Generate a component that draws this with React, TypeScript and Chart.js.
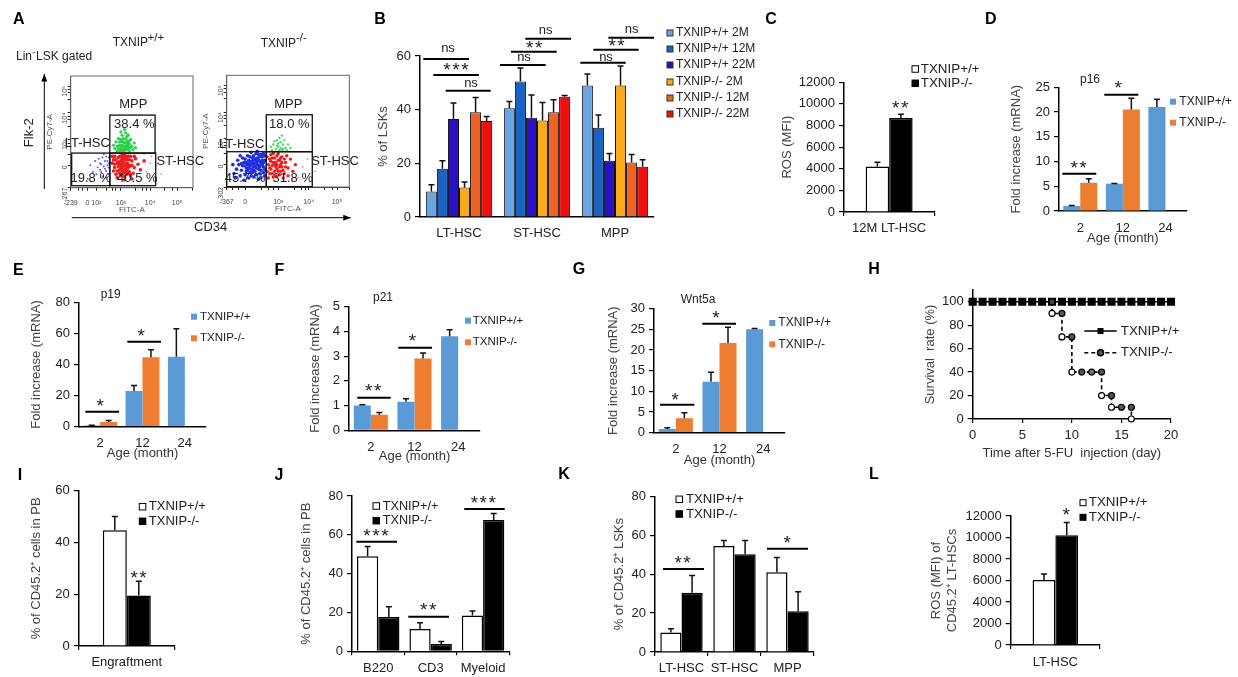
import React, { useEffect, useRef } from "react";
import { Chart, registerables } from "chart.js";

Chart.register(...registerables);

/* ---------- data ---------- */
const groups3 = ["LT-HSC", "ST-HSC", "MPP"];
const seriesNamesB = ["TXNIP+/+ 2M", "TXNIP+/+ 12M", "TXNIP+/+ 22M", "TXNIP-/- 2M", "TXNIP-/- 12M", "TXNIP-/- 22M"];
const colorsB = ["#68a5e2", "#1c62c0", "#2a12c4", "#fbaa1c", "#ee6226", "#ee1010"];
const valuesB = [
  [9.5, 40.5, 49],
  [18, 50.5, 33.3],
  [36.5, 37, 21],
  [11, 36, 49],
  [39, 39, 20.3],
  [35.8, 44.8, 18.7],
];
const errB = [
  [12, 43, 53.3],
  [21, 55.5, 38],
  [42.5, 45.5, 23.7],
  [13, 42.7, 56.3],
  [44.5, 43.7, 23.3],
  [37.5, 45.3, 21.3],
];
const ageLabels = ["2", "12", "24"];
const rosCLabel = ["12M LT-HSC"];
const rosCWT = [4200];
const rosCKO = [8700];
const rosCWTerr = [4600];
const rosCKOerr = [9050];
const p16WT = [1, 5.5, 21];
const p16KO = [5.7, 20.5, null];
const p16WTerr = [1.1, 5.55, 22.6];
const p16KOerr = [6.5, 22.8, null];
const p19WT = [0.7, 23, 45];
const p19KO = [3, 44.7, null];
const p19WTerr = [1, 26.5, 63];
const p19KOerr = [4, 49.5, null];
const p21WT = [1, 1.15, 3.8];
const p21KO = [0.63, 2.9, null];
const p21WTerr = [1.03, 1.28, 4.07];
const p21KOerr = [0.72, 3.13, null];
const wntWT = [0.9, 12.3, 25];
const wntKO = [3.5, 21.7, null];
const wntWTerr = [1.2, 14.6, 25.2];
const wntKOerr = [4.8, 25.5, null];
const survivalWTDays = [0, 1, 2, 3, 4, 5, 6, 7, 8, 9, 10, 11, 12, 13, 14, 15, 16, 17, 18, 19, 20];
const survivalWT = [100, 100, 100, 100, 100, 100, 100, 100, 100, 100, 100, 100, 100, 100, 100, 100, 100, 100, 100, 100, 100];
const survivalKODays = [8, 8, 9, 9, 10, 10, 11, 12, 13, 13, 14, 14, 15, 16, 16];
const survivalKO = [100, 90, 90, 70, 70, 40, 40, 40, 40, 20, 20, 10, 10, 10, 0];
const survivalKOFill = ["#444", "#fff", "#555", "#fff", "#555", "#fff", "#555", "#777", "#555", "#fff", "#555", "#fff", "#555", "#555", "#fff"];
const engraftLabel = ["Engraftment"];
const engraftWT = [44.7];
const engraftKO = [19.5];
const engraftWTerr = [50];
const engraftKOerr = [25];
const pbLabels = ["B220", "CD3", "Myeloid"];
const pbWT = [49, 11.5, 18.5];
const pbKO = [17.7, 3.7, 67.7];
const pbWTerr = [54, 14.7, 20.7];
const pbKOerr = [23, 5, 71];
const lskWT = [10, 54.5, 41];
const lskKO = [30.5, 50.2, 21];
const lskWTerr = [12, 57.3, 48.5];
const lskKOerr = [39.3, 57.3, 31];
const rosLLabel = ["LT-HSC"];
const rosLWT = [6050];
const rosLKO = [10200];
const rosLWTerr = [6600];
const rosLKOerr = [11400];

/* flow-cytometry dots, in percent of the plot box */
const flowAGreen = [[44,40],[42,38],[46,42],[45,36],[40,41],[48,39],[43,44],[47,35],[41,35],[44,33],[50,37],[38,37],[46,46],[42,47],[49,43],[39,44],[52,40],[36,35],[45,49],[48,33],[43,34],[40,33],[47,40],[44,37],[41,43],[51,34],[37,41],[46,38],[43,41],[45,44],[42,33],[49,36],[40,38],[38,33],[53,36],[44,52],[47,47],[41,50],[35,38],[42,41],[44,35],[46,34],[43,37],[39,35],[48,42],[45,40],[41,37],[47,37]];
const flowARed = [[44,20],[42,18],[46,22],[40,16],[48,19],[38,22],[45,26],[43,13],[36,18],[50,24],[41,24],[47,15],[39,27],[44,10],[35,25],[52,18],[46,28],[42,29],[49,28],[37,12],[41,20],[43,23],[45,17],[47,21],[39,19],[38,15],[36,28],[51,13],[55,21],[44,25],[42,15],[40,28],[46,12],[48,25],[34,22],[45,14],[43,27],[41,11],[39,23],[47,18],[37,25],[50,20],[44,16],[42,22],[46,19],[40,21],[43,19],[45,21],[41,17],[48,14],[35,15],[53,26],[38,9],[47,28],[49,11],[36,21],[44,29],[42,26],[57,16],[60,24],[40,13],[46,25],[34,28],[52,28],[44,7],[50,8]];
const flowAFaint = [[62,14],[65,22],[58,8],[70,20],[66,28],[74,12],[60,30]];
const flowABlue = [[28,24],[30,20],[26,27],[24,22],[29,15],[31,27],[22,18],[27,19],[25,14],[31,12],[20,24],[18,14],[29,28],[30,24],[28,17],[26,10],[23,26],[16,20],[31,18],[27,30],[24,16],[21,12],[14,8],[29,9],[31,22],[25,21]];
const flowBBlue = [[20,20],[22,18],[24,22],[18,24],[26,16],[16,17],[21,26],[25,26],[28,21],[14,22],[19,13],[23,14],[27,12],[30,18],[12,15],[17,28],[29,27],[24,30],[20,31],[31,24],[10,20],[15,11],[22,9],[26,7],[13,26],[11,10],[8,16],[6,12],[19,19],[21,21],[23,19],[25,20],[27,23],[18,21],[20,16],[22,24],[24,17],[26,24],[28,15],[30,13],[16,22],[17,15],[29,20],[31,16],[31,28],[28,29],[25,32],[22,28],[19,27],[15,25],[13,19],[9,24],[11,28],[7,8],[14,6],[18,8],[24,11],[21,13],[26,19],[23,25],[27,27],[29,24],[30,22],[25,23],[22,21],[20,23],[18,17],[16,14],[12,21],[5,20],[31,10],[28,8],[30,30],[26,29],[24,25],[22,15],[20,10],[17,20],[15,19],[27,18]];
const flowBRed = [[38,22],[40,18],[42,24],[36,16],[44,20],[35,25],[41,28],[37,12],[46,15],[39,26],[43,11],[34,20],[48,22],[45,27],[36,29],[50,17],[38,9],[42,14],[40,22],[44,26],[47,12],[35,12],[37,19],[39,14],[41,20],[43,18],[45,22],[33,27],[52,25],[54,14],[49,28],[46,8],[34,8],[38,30],[42,30],[36,23],[40,10],[44,14],[48,18],[50,10],[56,20],[37,26],[41,16],[43,24],[39,20],[35,17],[33,14],[47,25],[45,18]];
const flowBFaint = [[58,8],[62,18],[66,25],[72,14]];
const flowBGreen = [[44,40],[42,36],[46,38],[40,34],[48,35],[38,38],[43,44],[45,33],[41,42],[47,42],[37,33],[50,38],[44,35],[42,39],[39,41],[46,34],[43,33],[41,37],[45,46],[49,33],[36,36],[52,35]];
const flowAXTicks = [0, 6, 10, 13.6, 21, 29, 34, 37, 41, 53, 59, 62, 65, 77, 83, 87, 100];
const flowAXLabels = { 0: "-239", 13.6: "0", 21: "10\u00b2", 41: "10\u00b3", 65: "10\u2074", 87: "10\u2075" };
const flowBXTicks = [0, 5, 10, 15, 28, 34, 38, 42, 55, 61, 64, 67, 80, 86, 90, 100];
const flowBXLabels = { 0: "-367", 15: "0", 42: "10\u00b3", 67: "10\u2074", 90: "10\u2075" };
const flowAYTicks = [0, 20, 30, 37, 40, 43, 55, 61, 64, 67, 79, 85, 88, 91];
const flowAYLabels = { 0: "-267", 20: "0", 43: "10\u00b3", 67: "10\u2074", 91: "10\u2075" };
const flowBYLabels = { 0: "-302", 20: "0", 43: "10\u00b3", 67: "10\u2074", 91: "10\u2075" };

/* ---------- layout and style ---------- */
const W = 1238;
const H = 677;
const FONT = '"Liberation Sans", Arial, sans-serif';
const WT_BLUE = "#5b9bd5";
const KO_ORANGE = "#ed7d31";

const decorPlugin = {
  id: "decor",
  afterDraw(chart: any, _args: any, opts: any) {
    const ctx = chart.ctx;
    const yScale = chart.scales.y;
    const xScale = chart.scales.x;
    ctx.save();
    (chart.data.datasets as any[]).forEach((ds, i) => {
      if (!ds.errTop) return;
      const meta = chart.getDatasetMeta(i);
      meta.data.forEach((el: any, j: number) => {
        const v = ds.errTop[j];
        if (v == null) return;
        const top = yScale.getPixelForValue(v);
        const from = yScale.getPixelForValue(ds.data[j]);
        ctx.strokeStyle = "#111";
        ctx.lineWidth = 1.5;
        ctx.beginPath();
        ctx.moveTo(el.x, from);
        ctx.lineTo(el.x, top);
        ctx.moveTo(el.x - 3, top);
        ctx.lineTo(el.x + 3, top);
        ctx.stroke();
      });
    });
    if (opts.plotBox) {
      const a = chart.chartArea;
      ctx.strokeStyle = "#666";
      ctx.lineWidth = 1;
      ctx.strokeRect(a.left, a.top, a.right - a.left, a.bottom - a.top);
    }
    (opts.gates || []).forEach((g: number[]) => {
      const x0 = xScale.getPixelForValue(g[0]);
      const x1 = xScale.getPixelForValue(g[1]);
      const y0 = yScale.getPixelForValue(g[2]);
      const y1 = yScale.getPixelForValue(g[3]);
      ctx.strokeStyle = "#111";
      ctx.lineWidth = 1.3;
      ctx.strokeRect(x0, y1, x1 - x0, y0 - y1);
    });
    (opts.hbars || []).forEach((b: number[]) => {
      ctx.strokeStyle = "#000";
      ctx.lineWidth = 2;
      ctx.beginPath();
      ctx.moveTo(b[0], b[2]);
      ctx.lineTo(b[1], b[2]);
      ctx.stroke();
    });
    (opts.arrows || []).forEach((a: number[]) => {
      const ang = Math.atan2(a[3] - a[1], a[2] - a[0]);
      ctx.strokeStyle = "#000";
      ctx.fillStyle = "#000";
      ctx.lineWidth = 1;
      ctx.beginPath();
      ctx.moveTo(a[0], a[1]);
      ctx.lineTo(a[2], a[3]);
      ctx.stroke();
      ctx.beginPath();
      ctx.moveTo(a[2], a[3]);
      ctx.lineTo(a[2] - 8 * Math.cos(ang - 0.38), a[3] - 8 * Math.sin(ang - 0.38));
      ctx.lineTo(a[2] - 8 * Math.cos(ang + 0.38), a[3] - 8 * Math.sin(ang + 0.38));
      ctx.fill();
    });
    (opts.swatches || []).forEach((s: any) => {
      ctx.fillStyle = s.fill;
      ctx.fillRect(s.x, s.y - s.size / 2, s.size, s.size);
      if (s.stroke) {
        ctx.strokeStyle = s.stroke;
        ctx.lineWidth = 1;
        ctx.strokeRect(s.x, s.y - s.size / 2, s.size, s.size);
      }
    });
    (opts.legendLines || []).forEach((l: any) => {
      ctx.strokeStyle = "#000";
      ctx.lineWidth = 1.5;
      ctx.setLineDash(l.dash || []);
      ctx.beginPath();
      ctx.moveTo(l.x0, l.y);
      ctx.lineTo(l.x1, l.y);
      ctx.stroke();
      ctx.setLineDash([]);
      const c = (l.x0 + l.x1) / 2;
      ctx.fillStyle = l.fill;
      if (l.square) {
        ctx.fillRect(c - 3, l.y - 3, 6, 6);
      } else {
        ctx.beginPath();
        ctx.arc(c, l.y, 3, 0, Math.PI * 2);
        ctx.fill();
        ctx.stroke();
      }
    });
    (opts.texts || []).forEach((t: any) => {
      const isStar = /^\*+$/.test(t.t);
      const size = t.size || (isStar ? 19 : 13);
      ctx.save();
      ctx.font = `${t.bold ? "bold " : ""}${size}px ${FONT}`;
      ctx.fillStyle = t.color || "#222";
      ctx.textAlign = t.align || "center";
      ctx.textBaseline = "middle";
      if (isStar && "letterSpacing" in ctx) (ctx as any).letterSpacing = "1.5px";
      ctx.translate(t.x, t.y + (isStar ? size * 0.22 : 0));
      if (t.rot) ctx.rotate(t.rot);
      ctx.fillText(t.t, 0, 0);
      ctx.restore();
    });
    ctx.restore();
  },
};

function legendTexts(x: number, ys: number[], labels: string[], size: number) {
  return labels.map((t, i) => ({ t, x, y: ys[i], size, align: "left" }));
}

function swatches(x: number, ys: number[], size: number, fills: string[], stroke?: string) {
  return ys.map((y, i) => ({ x, y, size, fill: fills[i], stroke }));
}

function axes(p: any) {
  const tickH = p.xTicks ? 4 : 0;
  return {
    x: {
      type: p.xType || "category",
      ...(p.xType === "linear" ? { min: p.xMin, max: p.xMax } : {}),
      offset: p.xType !== "linear",
      afterFit(s: any) {
        s.height = p.boxH;
      },
      border: { color: "#000", width: 1.5 },
      grid: {
        display: true,
        drawOnChartArea: false,
        drawTicks: !!p.xTicks,
        tickLength: tickH,
        color: "#000",
        lineWidth: 1.2,
        offset: p.xType !== "linear",
      },
      ticks: {
        autoSkip: false,
        maxRotation: 0,
        minRotation: 0,
        color: "#222",
        stepSize: p.xStep,
        padding: p.tickY - p.b - tickH - 7.5,
        font: { family: FONT, size: p.xFont || 13 },
      },
      title: p.xTitle
        ? { display: true, text: p.xTitle, color: "#333", padding: 0, font: { family: FONT, size: 13, lineHeight: 1.2 } }
        : { display: false },
    },
    y: {
      min: p.yMin || 0,
      max: p.yMax,
      afterFit(s: any) {
        s.width = p.yBox;
      },
      border: { color: "#000", width: 1.5 },
      grid: { display: true, drawOnChartArea: false, drawTicks: true, tickLength: 5, color: "#000", lineWidth: 1.2 },
      ticks: {
        stepSize: p.yStep,
        includeBounds: p.includeBounds !== false,
        color: "#222",
        padding: 4,
        font: { family: FONT, size: 13 },
        callback: (v: any) => String(v),
      },
      title: {
        display: true,
        text: p.yTitle,
        color: "#444",
        padding: 0,
        font: { family: FONT, size: 13, lineHeight: 1.2 },
      },
    },
  };
}

function barConfig(p: any) {
  const lh = 15.6;
  const yBox = p.l - p.titleX + (lh / 2) * (Array.isArray(p.yTitle) ? 2 : 1);
  const boxH = p.xTitleY ? p.xTitleY - p.b + lh / 2 : 30;
  const full = { ...p, yBox, boxH };
  const { x, y } = axes(full);
  return {
    type: p.type || "bar",
    data: { labels: p.labels, datasets: p.datasets },
    options: {
      responsive: false,
      animation: false,
      layout: { padding: { left: p.l - yBox, top: p.t, right: W - p.r, bottom: H - p.b - boxH } },
      scales: { x, y },
      plugins: { legend: { display: false }, tooltip: { enabled: false }, decor: p.decor },
    },
    plugins: [decorPlugin],
  };
}

function twoBars(wt: any[], ko: any[], wtErr: any[], koErr: any[], pct: number, outline: boolean) {
  const common = { categoryPercentage: pct, barPercentage: 1 };
  return outline
    ? [
        { label: "TXNIP+/+", data: wt, errTop: wtErr, backgroundColor: "#fff", borderColor: "#000", borderWidth: 1.5, ...common },
        { label: "TXNIP-/-", data: ko, errTop: koErr, backgroundColor: "#000", borderColor: "#000", borderWidth: 1.5, ...common },
      ]
    : [
        { label: "TXNIP+/+", data: wt, errTop: wtErr, backgroundColor: WT_BLUE, ...common },
        { label: "TXNIP-/-", data: ko, errTop: koErr, backgroundColor: KO_ORANGE, ...common },
      ];
}

const twoNames = ["TXNIP+/+", "TXNIP-/-"];

function flowConfig(p: any) {
  const tickCb = (map: any) => (v: any) => (map[v] !== undefined ? map[v] : "");
  return {
    type: "scatter",
    data: {
      datasets: p.clouds.map((c: any) => ({
        data: c.pts.map((q: number[]) => ({ x: q[0], y: q[1] })),
        backgroundColor: c.color,
        pointRadius: c.r,
        borderWidth: 0,
      })),
    },
    options: {
      responsive: false,
      animation: false,
      layout: { padding: { left: p.l - 30, top: p.t, right: W - p.r, bottom: H - p.b - 26 } },
      scales: {
        x: {
          type: "linear",
          min: 0,
          max: 100,
          afterFit(s: any) {
            s.height = 26;
          },
          afterBuildTicks(s: any) {
            s.ticks = p.xTicks.map((value: number) => ({ value }));
          },
          border: { color: "#333", width: 1 },
          grid: { drawOnChartArea: false, drawTicks: true, tickLength: 3, color: "#222" },
          ticks: { autoSkip: false, maxRotation: 0, color: "#444", padding: 8, font: { family: FONT, size: 7 }, callback: tickCb(p.xLabels) },
          title: { display: true, text: "FITC-A", color: "#555", padding: 0, font: { family: FONT, size: 8, lineHeight: 1 } },
        },
        y: {
          min: 0,
          max: 100,
          afterFit(s: any) {
            s.width = 30;
          },
          afterBuildTicks(s: any) {
            s.ticks = p.yTicks.map((value: number) => ({ value }));
          },
          border: { color: "#333", width: 1 },
          grid: { drawOnChartArea: false, drawTicks: true, tickLength: 3, color: "#222" },
          ticks: { autoSkip: false, minRotation: 90, maxRotation: 90, color: "#444", padding: 3, font: { family: FONT, size: 7 }, callback: tickCb(p.yLabels) },
          title: { display: true, text: "PE-Cy7-A", color: "#555", padding: 5, font: { family: FONT, size: 8, lineHeight: 1 } },
        },
      },
      plugins: { legend: { display: false }, tooltip: { enabled: false }, decor: p.decor },
    },
    plugins: [decorPlugin],
  };
}

const up = -Math.PI / 2;

function buildConfigs(): any[] {
  const list: any[] = [];

  /* A */
  list.push(
    flowConfig({
      l: 70.7, r: 193, t: 76, b: 187.7,
      clouds: [
        { pts: flowABlue, color: "#5560dc", r: 1 },
        { pts: flowAGreen, color: "#2ed04a", r: 1.6 },
        { pts: flowARed, color: "#ee1c1c", r: 1.8 },
        { pts: flowAFaint, color: "#f0a0a0", r: 1 },
      ],
      xTicks: flowAXTicks, xLabels: flowAXLabels, yTicks: flowAYTicks, yLabels: flowAYLabels,
      decor: {
        plotBox: true,
        gates: [[0.8, 32, 1.8, 31], [32, 69.5, 1.8, 31], [32, 69, 31, 65]],
        arrows: [[44.3, 189, 44.3, 74], [71.7, 217.7, 350.7, 217.7]],
        texts: [
          { t: "A", x: 18.7, y: 20, size: 16, bold: true, color: "#000" },
          { t: "TXNIP", x: 112.7, y: 43, size: 12, align: "left" },
          { t: "+/+", x: 147.5, y: 37.5, size: 11.5, align: "left" },
          { t: "Lin\u207bLSK gated", x: 16, y: 56.7, size: 12, align: "left" },
          { t: "Flk-2", x: 29.3, y: 132.7, rot: up },
          { t: "CD34", x: 210.7, y: 227.7 },
          { t: "MPP", x: 133.3, y: 104.3 },
          { t: "38.4 %", x: 134.3, y: 124.3 },
          { t: "LT-HSC", x: 87.3, y: 143.3 },
          { t: "ST-HSC", x: 180.3, y: 161 },
          { t: "19.8 %", x: 90.7, y: 178.3 },
          { t: "40.5 %", x: 137.3, y: 178.3 },
        ],
      },
    })
  );
  list.push(
    flowConfig({
      l: 226.7, r: 349.3, t: 75.3, b: 187,
      clouds: [
        { pts: flowBGreen, color: "#4ed868", r: 1.2 },
        { pts: flowBBlue, color: "#1f2ee0", r: 1.8 },
        { pts: flowBRed, color: "#ee1c1c", r: 1.7 },
        { pts: flowBFaint, color: "#f0a0a0", r: 1 },
      ],
      xTicks: flowBXTicks, xLabels: flowBXLabels, yTicks: flowAYTicks, yLabels: flowBYLabels,
      decor: {
        plotBox: true,
        gates: [[0, 32.3, 0.3, 31.6], [32.3, 69.8, 0.3, 31.6], [32.3, 69.8, 31.6, 64.7]],
        texts: [
          { t: "TXNIP", x: 260.7, y: 43.3, size: 12, align: "left" },
          { t: "-/-", x: 296, y: 38, size: 11.5, align: "left" },
          { t: "MPP", x: 288.3, y: 104.3 },
          { t: "18.0 %", x: 289.3, y: 124.3 },
          { t: "LT-HSC", x: 241.7, y: 144 },
          { t: "ST-HSC", x: 335, y: 161 },
          { t: "45.7 %", x: 245, y: 178.3 },
          { t: "31.8 %", x: 292.7, y: 178.3 },
        ],
      },
    })
  );

  /* B */
  list.push(
    barConfig({
      l: 420, r: 654, t: 56, b: 217, titleX: 383, tickY: 233,
      labels: groups3,
      datasets: seriesNamesB.map((label, i) => ({
        label,
        data: valuesB[i],
        errTop: errB[i],
        backgroundColor: colorsB[i],
        borderColor: "#111",
        borderWidth: 1,
        categoryPercentage: 0.85,
        barPercentage: 1,
      })),
      yMax: 60, yStep: 20, yTitle: "% of LSKs",
      decor: {
        hbars: [
          [423.3, 469, 59], [433.3, 479, 75], [445.7, 490.7, 90.7],
          [500, 545.7, 65], [511, 556.7, 51.7], [525.3, 571, 38.7],
          [580.3, 625.7, 62.7], [593.3, 638.7, 49.7], [608.3, 654, 37.7],
        ],
        swatches: swatches(667, [33, 49, 65, 82, 98, 114], 6, colorsB, "#333"),
        texts: [
          { t: "B", x: 380, y: 20, size: 16, bold: true, color: "#000" },
          { t: "ns", x: 448, y: 48 }, { t: "***", x: 456.7, y: 66.5 }, { t: "ns", x: 471, y: 83 },
          { t: "ns", x: 524, y: 57 }, { t: "**", x: 535, y: 45 }, { t: "ns", x: 545.7, y: 30 },
          { t: "ns", x: 606, y: 57 }, { t: "**", x: 617.3, y: 43 }, { t: "ns", x: 631.7, y: 29 },
          ...legendTexts(676, [33, 49, 65, 82, 98, 114], seriesNamesB, 12),
        ],
      },
    })
  );

  /* C */
  list.push(
    barConfig({
      l: 844, r: 934.3, t: 82.3, b: 212, titleX: 787, tickY: 228, xTicks: true,
      labels: rosCLabel,
      datasets: twoBars(rosCWT, rosCKO, rosCWTerr, rosCKOerr, 0.52, true),
      yMax: 12000, yStep: 2000, yTitle: "ROS (MFI)",
      decor: {
        swatches: swatches(912, [69, 83.3], 6.5, ["#fff", "#000"], "#000"),
        texts: [
          { t: "C", x: 771, y: 20, size: 16, bold: true, color: "#000" },
          { t: "**", x: 901, y: 104.3 },
          ...legendTexts(920.7, [69, 83.3], twoNames, 13.4),
        ],
      },
    })
  );

  /* D */
  list.push(
    barConfig({
      l: 1059, r: 1186.7, t: 87.3, b: 211, titleX: 1016.7, tickY: 227.7, xTitleY: 238,
      labels: ageLabels,
      datasets: twoBars(p16WT, p16KO, p16WTerr, p16KOerr, 0.8, false),
      yMax: 25, yStep: 5, yTitle: "Fold increase (mRNA)", xTitle: "Age (month)",
      decor: {
        hbars: [[1062.3, 1096.3, 173.7], [1104.3, 1138.3, 94.7]],
        swatches: swatches(1170, [101.7, 122.7], 6, [WT_BLUE, KO_ORANGE]),
        texts: [
          { t: "D", x: 990.7, y: 20, size: 16, bold: true, color: "#000" },
          { t: "p16", x: 1090, y: 80, size: 12 },
          { t: "**", x: 1079.3, y: 164.3 }, { t: "*", x: 1119, y: 85 },
          ...legendTexts(1179.3, [101.7, 122.7], twoNames, 12),
        ],
      },
    })
  );

  /* E */
  list.push(
    barConfig({
      l: 79, r: 206, t: 302.3, b: 426.7, titleX: 36, tickY: 443, xTitleY: 453,
      labels: ageLabels,
      datasets: twoBars(p19WT, p19KO, p19WTerr, p19KOerr, 0.8, false),
      yMax: 80, yStep: 20, yTitle: "Fold increase (mRNA)", xTitle: "Age (month)",
      decor: {
        hbars: [[85.3, 119, 411.7], [127.3, 161, 341.7]],
        swatches: swatches(191, [316.7, 338.3], 6, [WT_BLUE, KO_ORANGE]),
        texts: [
          { t: "E", x: 18.3, y: 270.7, size: 16, bold: true, color: "#000" },
          { t: "p19", x: 110.7, y: 295, size: 12 },
          { t: "*", x: 101, y: 402.7 }, { t: "*", x: 142, y: 333 },
          ...legendTexts(200, [316.7, 338.3], twoNames, 11.5),
        ],
      },
    })
  );

  /* F */
  list.push(
    barConfig({
      l: 349, r: 480, t: 306.7, b: 430.3, titleX: 315, tickY: 447, xTitleY: 456.7,
      labels: ageLabels,
      datasets: twoBars(p21WT, p21KO, p21WTerr, p21KOerr, 0.78, false),
      yMax: 5, yStep: 1, yTitle: "Fold increase (mRNA)", xTitle: "Age (month)",
      decor: {
        hbars: [[357.3, 390.7, 397.7], [398.3, 432, 347.7]],
        swatches: swatches(465, [320.7, 342.3], 6, [WT_BLUE, KO_ORANGE]),
        texts: [
          { t: "F", x: 279.3, y: 270.7, size: 16, bold: true, color: "#000" },
          { t: "p21", x: 383, y: 298, size: 12 },
          { t: "**", x: 374, y: 388 }, { t: "*", x: 413.3, y: 337.3 },
          ...legendTexts(472.7, [320.7, 342.3], twoNames, 11.5),
        ],
      },
    })
  );

  /* G */
  list.push(
    barConfig({
      l: 654, r: 785, t: 308.7, b: 432.7, titleX: 613, tickY: 449, xTitleY: 460,
      labels: ageLabels,
      datasets: twoBars(wntWT, wntKO, wntWTerr, wntKOerr, 0.78, false),
      yMax: 30, yStep: 5, yTitle: "Fold increase (mRNA)", xTitle: "Age (month)",
      decor: {
        hbars: [[660, 694.3, 404.7], [702.3, 736, 323.7]],
        swatches: swatches(769.3, [323, 344.3], 6, [WT_BLUE, KO_ORANGE]),
        texts: [
          { t: "G", x: 579, y: 270, size: 16, bold: true, color: "#000" },
          { t: "Wnt5a", x: 698, y: 300, size: 12 },
          { t: "*", x: 676, y: 396.7 }, { t: "*", x: 716.7, y: 314.3 },
          ...legendTexts(778.3, [323, 344.3], twoNames, 12),
        ],
      },
    })
  );

  /* H */
  list.push(
    barConfig({
      type: "line",
      l: 972.7, r: 1171, t: 290, b: 419, titleX: 930, tickY: 435, xTitleY: 453, xTicks: true,
      xType: "linear", xMin: 0, xMax: 20, xStep: 5,
      datasets: [
        {
          label: "TXNIP-/-",
          data: survivalKODays.map((x, i) => ({ x, y: survivalKO[i] })),
          borderColor: "#000",
          borderWidth: 1.6,
          borderDash: [4, 3],
          pointRadius: 3,
          pointBorderWidth: 1.2,
          pointBorderColor: "#000",
          pointBackgroundColor: survivalKOFill,
          clip: false,
        },
        {
          label: "TXNIP+/+",
          data: survivalWTDays.map((x, i) => ({ x, y: survivalWT[i] })),
          borderColor: "#000",
          borderWidth: 1.6,
          pointStyle: "rect",
          pointRadius: 4.6,
          pointBackgroundColor: "#000",
          pointBorderColor: "#000",
          clip: false,
        },
      ],
      yMax: 110, yStep: 20, includeBounds: false, yTitle: "Survival  rate (%)", xTitle: "Time after 5-FU  injection (day)",
      decor: {
        legendLines: [
          { x0: 1084.3, x1: 1116.7, y: 331, fill: "#000", square: true },
          { x0: 1084.3, x1: 1116.7, y: 352.7, fill: "#555", dash: [4, 3] },
        ],
        texts: [
          { t: "H", x: 874, y: 270, size: 16, bold: true, color: "#000" },
          ...legendTexts(1120.7, [331, 352.7], twoNames, 13.4),
        ],
      },
    })
  );

  /* I */
  list.push(
    barConfig({
      l: 78.8, r: 174.8, t: 490.7, b: 646, titleX: 36, tickY: 662.3, xTicks: true,
      labels: engraftLabel,
      datasets: twoBars(engraftWT, engraftKO, engraftWTerr, engraftKOerr, 0.5, true),
      yMax: 60, yStep: 20, yTitle: "% of CD45.2\u207a cells in PB",
      decor: {
        swatches: swatches(139.3, [506.7, 521.3], 6.5, ["#fff", "#000"], "#000"),
        texts: [
          { t: "I", x: 20, y: 475.7, size: 16, bold: true, color: "#000" },
          { t: "**", x: 139.3, y: 575 },
          ...legendTexts(148.8, [506.7, 521.3], twoNames, 13),
        ],
      },
    })
  );

  /* J */
  list.push(
    barConfig({
      l: 352, r: 509.3, t: 496, b: 651.3, titleX: 306.7, tickY: 667.7, xTicks: true,
      labels: pbLabels,
      datasets: twoBars(pbWT, pbKO, pbWTerr, pbKOerr, 0.81, true),
      yMax: 80, yStep: 20, yTitle: "% of CD45.2\u207a cells in PB",
      decor: {
        hbars: [[356.3, 397, 541.7], [408.3, 449, 616.7], [464.3, 504.7, 509]],
        swatches: swatches(373, [506, 520.7], 6.5, ["#fff", "#000"], "#000"),
        texts: [
          { t: "J", x: 279, y: 475.7, size: 16, bold: true, color: "#000" },
          { t: "***", x: 376.7, y: 532.7 }, { t: "**", x: 429, y: 606.7 }, { t: "***", x: 484, y: 500 },
          ...legendTexts(382.7, [506, 520.7], twoNames, 12.7),
        ],
      },
    })
  );

  /* K */
  list.push(
    barConfig({
      l: 655, r: 814, t: 496.3, b: 652, titleX: 619.3, tickY: 667.7, xTicks: true,
      labels: groups3,
      datasets: twoBars(lskWT, lskKO, lskWTerr, lskKOerr, 0.8, true),
      yMax: 80, yStep: 20, yTitle: "% of CD45.2\u207a LSKs",
      decor: {
        hbars: [[663, 704, 569], [767, 808, 548.7]],
        swatches: swatches(676, [499.3, 514], 6.5, ["#fff", "#000"], "#000"),
        texts: [
          { t: "K", x: 564, y: 475, size: 16, bold: true, color: "#000" },
          { t: "**", x: 683.3, y: 559.3 }, { t: "*", x: 788, y: 540 },
          ...legendTexts(686, [499.3, 514], twoNames, 13.2),
        ],
      },
    })
  );

  /* L */
  list.push(
    barConfig({
      l: 1010.7, r: 1100, t: 516, b: 645, titleX: 944.7, tickY: 661.7, xTicks: true,
      labels: rosLLabel,
      datasets: twoBars(rosLWT, rosLKO, rosLWTerr, rosLKOerr, 0.51, true),
      yMax: 12000, yStep: 2000, yTitle: ["ROS (MFI) of", "CD45.2\u207a LT-HSCs"],
      decor: {
        swatches: swatches(1080, [502.7, 517.3], 6, ["#fff", "#000"], "#000"),
        texts: [
          { t: "L", x: 874, y: 475, size: 16, bold: true, color: "#000" },
          { t: "*", x: 1067, y: 512 },
          ...legendTexts(1088.7, [502.7, 517.3], twoNames, 13.4),
        ],
      },
    })
  );
  return list;
}

function Panel({ config }: { config: any }) {
  const ref = useRef<HTMLCanvasElement>(null);
  useEffect(() => {
    const chart = new Chart(ref.current as HTMLCanvasElement, config);
    return () => chart.destroy();
  }, [config]);
  return <canvas ref={ref} width={W} height={H} style={{ position: "absolute", left: 0, top: 0, width: W, height: H, display: "block" }} />;
}

const configs = buildConfigs();

export default function App() {
  useEffect(() => {
    document.body.style.margin = "0";
    document.body.style.background = "#fff";
  }, []);
  return (
    <div style={{ position: "relative", width: W, height: H, overflow: "hidden", background: "#fff" }}>
      {configs.map((c, i) => (
        <Panel key={i} config={c} />
      ))}
    </div>
  );
}
